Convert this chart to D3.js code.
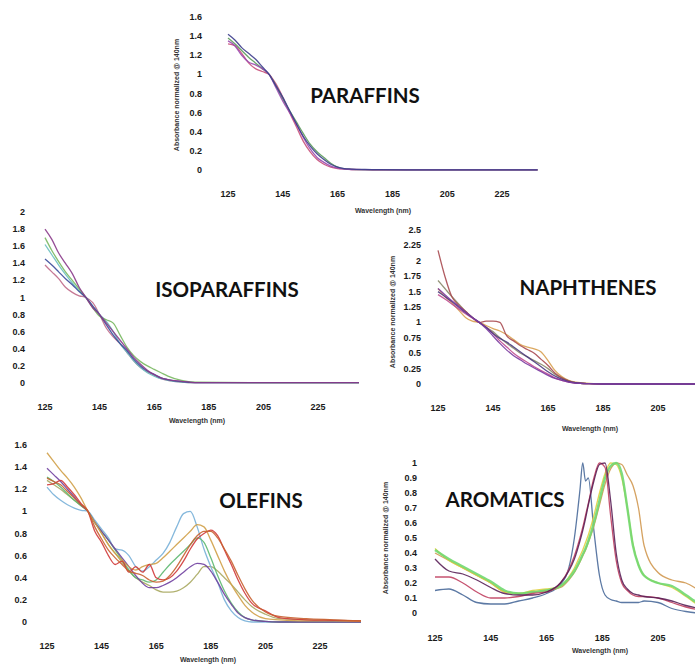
<!DOCTYPE html>
<html>
<head>
<meta charset="utf-8">
<script src="https://cdn.jsdelivr.net/npm/d3@7.9.0/dist/d3.min.js"></script>
<style>
  body { margin: 0; background: #fff; }
  svg { display: block; }
  .tick-label { font-family: "Liberation Sans", Arial, sans-serif; font-weight: bold; font-size: 9px; fill: #1a1a1a; }
  .axis-title { font-family: "Liberation Sans", Arial, sans-serif; font-weight: bold; font-size: 7px; fill: #333; }
  .panel-title { font-family: Lato, "Open Sans", sans-serif; font-weight: 700; font-size: 20.5px; fill: #111; }
</style>
</head>
<body>
<svg id="chart" width="695" height="670"></svg>
<script>
// ---- data ----
const xTicks = [125, 145, 165, 185, 205, 225];

// paraffins
const parWl = [125, 127.5, 130, 132.5, 135, 137.5, 140, 142.5, 145, 147.5, 150, 152.5, 155, 157.5, 160, 162.5, 165, 167.5, 170, 175, 180, 200, 238];
const parNavy   = [1.42, 1.36, 1.28, 1.22, 1.16, 1.08, 1.0, 0.88, 0.76, 0.62, 0.48, 0.35, 0.25, 0.17, 0.11, 0.06, 0.03, 0.015, 0.01, 0.005, 0.003, 0.002, 0.002];
const parPink   = [1.32, 1.30, 1.22, 1.12, 1.06, 1.03, 1.0, 0.90, 0.76, 0.60, 0.45, 0.30, 0.19, 0.11, 0.06, 0.03, 0.015, 0.01, 0.005, 0.003, 0.002, 0.002, 0.002];
const parPurple = [1.35, 1.30, 1.20, 1.13, 1.10, 1.06, 1.0, 0.86, 0.72, 0.60, 0.48, 0.34, 0.22, 0.13, 0.08, 0.04, 0.02, 0.01, 0.005, 0.003, 0.002, 0.002, 0.002];
const parGreen  = [1.38, 1.32, 1.25, 1.18, 1.12, 1.06, 1.0, 0.88, 0.74, 0.62, 0.50, 0.38, 0.27, 0.19, 0.13, 0.07, 0.03, 0.012, 0.006, 0.003, 0.002, 0.002, 0.002];
const parTicks = [0, 0.2, 0.4, 0.6, 0.8, 1, 1.2, 1.4, 1.6];

// isoparaffins
const isoWl = [125, 127.5, 130, 132.5, 135, 137.5, 140, 142.5, 145, 147.5, 150, 152.5, 155, 157.5, 160, 162.5, 165, 167.5, 170, 175, 180, 200, 240];
const isoPurple = [1.80, 1.68, 1.52, 1.40, 1.28, 1.12, 1.0, 0.88, 0.80, 0.70, 0.60, 0.50, 0.40, 0.30, 0.22, 0.15, 0.10, 0.06, 0.04, 0.02, 0.005, 0.004, 0.004];
const isoGreen  = [1.70, 1.55, 1.42, 1.30, 1.20, 1.10, 1.0, 0.88, 0.78, 0.74, 0.70, 0.56, 0.42, 0.32, 0.25, 0.20, 0.16, 0.12, 0.08, 0.03, 0.01, 0.004, 0.004];
const isoBlue   = [1.45, 1.38, 1.30, 1.22, 1.15, 1.07, 1.0, 0.90, 0.80, 0.68, 0.56, 0.46, 0.38, 0.28, 0.20, 0.14, 0.10, 0.06, 0.04, 0.015, 0.005, 0.004, 0.004];
const isoPink   = [1.38, 1.30, 1.22, 1.12, 1.06, 1.02, 1.0, 0.94, 0.80, 0.64, 0.54, 0.46, 0.36, 0.26, 0.18, 0.13, 0.09, 0.05, 0.03, 0.01, 0.004, 0.004, 0.004];
const isoTeal   = [1.62, 1.50, 1.38, 1.27, 1.17, 1.08, 1.0, 0.90, 0.80, 0.72, 0.60, 0.46, 0.36, 0.26, 0.18, 0.12, 0.08, 0.05, 0.03, 0.01, 0.004, 0.004, 0.004];
const isoTicks = [0, 0.2, 0.4, 0.6, 0.8, 1, 1.2, 1.4, 1.6, 1.8, 2];

// naphthenes
const napWl = [125, 127.5, 130, 132.5, 135, 137.5, 140, 142.5, 145, 147.5, 150, 152.5, 155, 157.5, 160, 162.5, 165, 167.5, 170, 172.5, 175, 180, 185, 240];
const napBrown  = [2.17, 1.75, 1.42, 1.28, 1.18, 1.08, 1.0, 1.02, 1.02, 1.00, 0.78, 0.70, 0.62, 0.56, 0.50, 0.40, 0.30, 0.18, 0.10, 0.05, 0.02, 0.005, 0, 0];
const napOrange = [1.55, 1.42, 1.32, 1.20, 1.08, 1.02, 1.0, 0.95, 0.90, 0.86, 0.80, 0.72, 0.64, 0.60, 0.57, 0.52, 0.38, 0.22, 0.12, 0.06, 0.03, 0.01, 0, 0];
const napGray   = [1.68, 1.55, 1.42, 1.30, 1.18, 1.08, 1.0, 0.92, 0.85, 0.75, 0.66, 0.58, 0.50, 0.44, 0.38, 0.32, 0.25, 0.16, 0.10, 0.05, 0.02, 0.005, 0, 0];
const napPurple = [1.55, 1.45, 1.35, 1.26, 1.17, 1.08, 1.0, 0.90, 0.78, 0.66, 0.55, 0.46, 0.39, 0.32, 0.26, 0.20, 0.14, 0.09, 0.06, 0.03, 0.015, 0.005, 0, 0];
const napIndigo = [1.50, 1.42, 1.34, 1.25, 1.16, 1.08, 1.0, 0.92, 0.82, 0.74, 0.68, 0.60, 0.52, 0.44, 0.36, 0.28, 0.20, 0.13, 0.08, 0.04, 0.02, 0.005, 0, 0];
const napPink   = [1.45, 1.38, 1.30, 1.22, 1.14, 1.07, 1.0, 0.92, 0.82, 0.70, 0.60, 0.50, 0.42, 0.35, 0.28, 0.22, 0.16, 0.10, 0.06, 0.03, 0.015, 0.005, 0, 0];
const napTicks = [0, 0.25, 0.5, 0.75, 1, 1.25, 1.5, 1.75, 2, 2.25, 2.5];

// olefins
const oleWl = [125, 127.5, 130, 132.5, 135, 137.5, 140, 142.5, 145, 147.5, 150, 152.5, 155, 157.5, 160, 162.5, 165, 167.5, 170, 172.5, 175, 177.5, 180, 182.5, 185, 187.5, 190, 192.5, 195, 197.5, 200, 205, 210, 220, 230, 240];
const oleOrange = [1.53, 1.45, 1.37, 1.30, 1.22, 1.12, 1.0, 0.90, 0.80, 0.70, 0.62, 0.56, 0.50, 0.47, 0.50, 0.52, 0.53, 0.58, 0.64, 0.70, 0.76, 0.82, 0.88, 0.86, 0.74, 0.60, 0.46, 0.34, 0.24, 0.15, 0.09, 0.03, 0.02, 0.01, 0.01, 0.005];
const olePurple = [1.39, 1.33, 1.27, 1.20, 1.13, 1.06, 1.0, 0.90, 0.82, 0.74, 0.66, 0.58, 0.50, 0.42, 0.35, 0.31, 0.31, 0.33, 0.36, 0.40, 0.45, 0.50, 0.53, 0.52, 0.46, 0.36, 0.25, 0.16, 0.08, 0.04, 0.02, 0.005, 0, 0, 0, 0];
const oleGreen  = [1.31, 1.27, 1.22, 1.16, 1.10, 1.05, 1.0, 0.90, 0.82, 0.74, 0.65, 0.56, 0.47, 0.40, 0.38, 0.36, 0.38, 0.45, 0.52, 0.58, 0.64, 0.70, 0.76, 0.72, 0.58, 0.42, 0.28, 0.17, 0.09, 0.04, 0.02, 0.005, 0, 0, 0, 0];
const oleRed    = [1.24, 1.25, 1.28, 1.22, 1.15, 1.07, 1.0, 0.82, 0.72, 0.60, 0.52, 0.55, 0.45, 0.50, 0.45, 0.52, 0.40, 0.38, 0.40, 0.46, 0.55, 0.66, 0.75, 0.80, 0.83, 0.78, 0.65, 0.52, 0.38, 0.26, 0.17, 0.10, 0.04, 0.02, 0.015, 0.01];
const oleCyan   = [1.22, 1.15, 1.10, 1.06, 1.03, 1.01, 1.0, 0.92, 0.84, 0.76, 0.66, 0.65, 0.60, 0.50, 0.46, 0.50, 0.56, 0.62, 0.72, 0.86, 0.98, 1.0, 0.86, 0.66, 0.50, 0.36, 0.20, 0.10, 0.04, 0.01, 0, 0, 0, 0, 0, 0];
const oleOlive  = [1.28, 1.24, 1.20, 1.15, 1.10, 1.05, 1.0, 0.90, 0.80, 0.70, 0.62, 0.54, 0.46, 0.40, 0.36, 0.33, 0.29, 0.27, 0.27, 0.28, 0.31, 0.36, 0.43, 0.50, 0.50, 0.46, 0.40, 0.34, 0.27, 0.20, 0.14, 0.07, 0.03, 0.02, 0.015, 0.01];
const oleRust   = [1.30, 1.27, 1.24, 1.18, 1.12, 1.06, 1.0, 0.86, 0.75, 0.65, 0.58, 0.52, 0.46, 0.44, 0.42, 0.38, 0.36, 0.37, 0.42, 0.50, 0.60, 0.70, 0.78, 0.82, 0.82, 0.76, 0.66, 0.55, 0.42, 0.30, 0.20, 0.09, 0.05, 0.03, 0.02, 0.01];
const oleTicks = [0, 0.2, 0.4, 0.6, 0.8, 1, 1.2, 1.4, 1.6];

// aromatics
const aroWl = [125, 130, 135, 140, 145, 150, 155, 160, 165, 170, 173, 175, 177, 178, 179, 180, 182, 184, 186, 188, 190, 192, 194, 196, 198, 200, 205, 210, 215, 220, 230, 240];
const aroBlue    = [0.15, 0.16, 0.12, 0.07, 0.06, 0.06, 0.08, 0.10, 0.13, 0.19, 0.30, 0.50, 0.82, 1.0, 0.88, 0.90, 0.55, 0.25, 0.12, 0.09, 0.08, 0.07, 0.07, 0.07, 0.07, 0.08, 0.07, 0.03, 0.01, 0, 0, 0];
const aroRed     = [0.24, 0.24, 0.20, 0.14, 0.10, 0.10, 0.11, 0.13, 0.14, 0.20, 0.29, 0.38, 0.50, 0.57, 0.65, 0.73, 0.90, 1.0, 0.97, 0.65, 0.35, 0.20, 0.15, 0.12, 0.11, 0.11, 0.10, 0.07, 0.04, 0.02, 0.01, 0];
const aroPlum    = [0.36, 0.28, 0.26, 0.22, 0.17, 0.13, 0.12, 0.12, 0.14, 0.20, 0.28, 0.36, 0.48, 0.55, 0.63, 0.72, 0.88, 0.99, 1.0, 0.75, 0.40, 0.22, 0.16, 0.13, 0.12, 0.11, 0.10, 0.08, 0.05, 0.03, 0.01, 0];
const aroGreen   = [0.42, 0.36, 0.31, 0.26, 0.21, 0.15, 0.13, 0.14, 0.15, 0.18, 0.23, 0.28, 0.35, 0.39, 0.43, 0.48, 0.60, 0.75, 0.90, 0.98, 1.0, 0.93, 0.70, 0.45, 0.32, 0.25, 0.20, 0.18, 0.12, 0.06, 0.02, 0.01];
const aroYellow  = [0.43, 0.35, 0.30, 0.25, 0.20, 0.14, 0.13, 0.15, 0.16, 0.18, 0.24, 0.30, 0.38, 0.42, 0.47, 0.52, 0.65, 0.80, 0.93, 1.0, 0.99, 0.90, 0.70, 0.46, 0.32, 0.25, 0.20, 0.17, 0.11, 0.05, 0.02, 0.01];
const aroOrange  = [0.40, 0.35, 0.30, 0.25, 0.20, 0.14, 0.13, 0.14, 0.15, 0.17, 0.22, 0.27, 0.34, 0.38, 0.42, 0.47, 0.58, 0.72, 0.86, 0.96, 1.0, 0.99, 0.92, 0.85, 0.70, 0.45, 0.27, 0.22, 0.20, 0.15, 0.08, 0.04];
const aroTicks = [0, 0.1, 0.2, 0.3, 0.4, 0.5, 0.6, 0.7, 0.8, 0.9, 1];

// ---- panels ----
const panels = [
  {
    title: 'PARAFFINS', wl: parWl, yMax: 1.6, yTicks: parTicks, fmt: d3.format('.1~f'),
    series: [
      { v: parPink, c: '#c8507a' }, { v: parGreen, c: '#5a9a5a' },
      { v: parPurple, c: '#9a4ab0' }, { v: parNavy, c: '#3c3c8c' }
    ],
    x0: 228, x1: 502, y0: 170, y1: 17, labelX: 202, tickY: 197,
    xTitle: [383, 213], yTitle: [179, 95], titlePos: [365, 103]
  },
  {
    title: 'ISOPARAFFINS', wl: isoWl, yMax: 2, yTicks: isoTicks, fmt: d3.format('.1~f'),
    series: [
      { v: isoPink, c: '#c06a8a' }, { v: isoTeal, c: '#6ac0c0' }, { v: isoGreen, c: '#78b860' },
      { v: isoBlue, c: '#3a4a9a' }, { v: isoPurple, c: '#8a3a8a' }
    ],
    x0: 45, x1: 318, y0: 383, y1: 212, labelX: 25, tickY: 410,
    xTitle: [197, 423], yTitle: null, titlePos: [227, 297]
  },
  {
    title: 'NAPHTHENES', wl: napWl, yMax: 2.5, yTicks: napTicks, fmt: d3.format('~g'),
    series: [
      { v: napOrange, c: '#d8a050' }, { v: napGray, c: '#8a8a6a' }, { v: napBrown, c: '#a84a50' },
      { v: napPink, c: '#c04a90' }, { v: napIndigo, c: '#4a3a80' }, { v: napPurple, c: '#7a3aa0' }
    ],
    x0: 438, x1: 658, y0: 384, y1: 230, labelX: 421, tickY: 411,
    xTitle: [590, 431], yTitle: [395, 312], titlePos: [588, 295]
  },
  {
    title: 'OLEFINS', wl: oleWl, yMax: 1.6, yTicks: oleTicks, fmt: d3.format('.1~f'),
    series: [
      { v: oleOlive, c: '#a8a860' }, { v: oleCyan, c: '#78b0d8' }, { v: oleGreen, c: '#5cb870' },
      { v: olePurple, c: '#7040a0' }, { v: oleOrange, c: '#d0a048' }, { v: oleRed, c: '#d03838' },
      { v: oleRust, c: '#c86030' }
    ],
    x0: 47, x1: 320, y0: 622, y1: 445, labelX: 27, tickY: 649,
    xTitle: [208, 662], yTitle: null, titlePos: [261, 508]
  },
  {
    title: 'AROMATICS', wl: aroWl, yMax: 1, yTicks: aroTicks, fmt: d3.format('~g'),
    series: [
      { v: aroBlue, c: '#4a6a9a' }, { v: aroOrange, c: '#d09850' }, { v: aroYellow, c: '#e0d040' },
      { v: aroGreen, c: '#70d870', w: 2.4 }, { v: aroRed, c: '#c04060' }, { v: aroPlum, c: '#5a2058' }
    ],
    x0: 435, x1: 658, y0: 613, y1: 463, labelX: 417, tickY: 641,
    xTitle: [600, 653], yTitle: [388, 538], titlePos: [505, 507]
  }
];

const svg = d3.select('#chart');

panels.forEach(p => {
  // x: first/last tick positions mapped from tick values
  const lastTick = p.x1 === 658 ? 205 : 225;
  const x = d3.scaleLinear().domain([125, lastTick]).range([p.x0, p.x1]);
  const y = d3.scaleLinear().domain([0, p.yMax]).range([p.y0, p.y1]);
  const g = svg.append('g');

  const line = d3.line()
    .x((d, i) => x(p.wl[i]))
    .y(d => y(d))
    .curve(d3.curveMonotoneX);

  p.series.forEach(s => {
    g.append('path')
      .attr('d', line(s.v))
      .attr('fill', 'none')
      .attr('stroke', s.c)
      .attr('stroke-width', s.w || 1.3)
      .attr('stroke-linejoin', 'round')
      .attr('opacity', 0.9);
  });

  // y tick labels
  g.selectAll('.ylab').data(p.yTicks).join('text')
    .attr('class', 'tick-label')
    .attr('x', p.labelX)
    .attr('y', d => y(d) + 3)
    .attr('text-anchor', 'end')
    .text(d => p.fmt(d));

  // x tick labels
  g.selectAll('.xlab').data(xTicks.filter(t => t <= lastTick + 20 && x(t) < 690)).join('text')
    .attr('class', 'tick-label')
    .attr('x', d => x(d))
    .attr('y', p.tickY)
    .attr('text-anchor', 'middle')
    .text(d => d);

  g.append('text')
    .attr('class', 'axis-title')
    .attr('x', p.xTitle[0]).attr('y', p.xTitle[1])
    .attr('text-anchor', 'middle')
    .text('Wavelength (nm)');

  if (p.yTitle) {
    g.append('text')
      .attr('class', 'axis-title')
      .attr('transform', `translate(${p.yTitle[0]},${p.yTitle[1]}) rotate(-90)`)
      .attr('text-anchor', 'middle')
      .text('Absorbance normalized @ 140nm');
  }

  g.append('text')
    .attr('class', 'panel-title')
    .attr('x', p.titlePos[0]).attr('y', p.titlePos[1])
    .attr('text-anchor', 'middle')
    .text(p.title);
});
</script>
</body>
</html>
